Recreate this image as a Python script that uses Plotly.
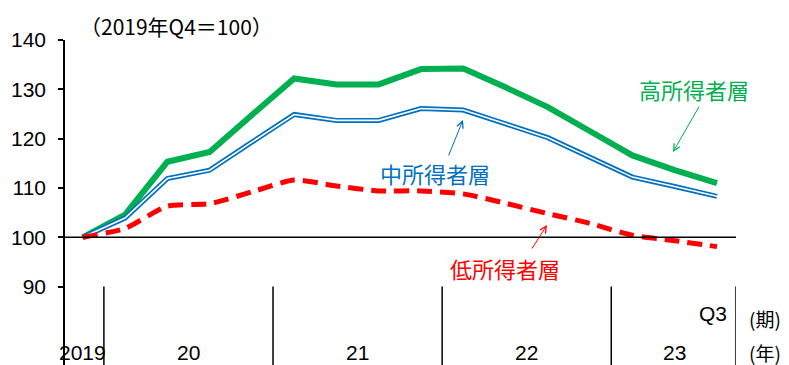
import plotly.graph_objects as go

# Quarterly index, 2019Q4 = 100
quarters = ["2019Q4",
            "2020Q1", "2020Q2", "2020Q3", "2020Q4",
            "2021Q1", "2021Q2", "2021Q3", "2021Q4",
            "2022Q1", "2022Q2", "2022Q3", "2022Q4",
            "2023Q1", "2023Q2", "2023Q3"]
high_income = [100.0, 104.6, 115.3, 117.3, 124.8, 132.2, 131.0, 131.0,
               134.1, 134.2, 130.4, 126.4, 121.5, 116.6, 113.6, 111.0]
middle_income = [100.0, 103.9, 111.9, 113.6, 119.3, 124.9, 123.7, 123.7,
                 126.1, 125.8, 123.0, 120.2, 116.2, 112.2, 110.3, 108.3]
low_income = [100.0, 101.8, 106.3, 106.8, 109.2, 111.6, 110.4, 109.4,
              109.4, 108.8, 106.9, 104.8, 102.8, 100.4, 99.3, 98.1]

year_labels = ["2019", "20", "21", "22", "23"]
year_centers = [0, 2.5, 6.5, 10.5, 14]
year_bounds = [0.5, 4.5, 8.5, 12.5, 15.45]

GREEN = "#00B050"
BLUE = "#0070C0"
RED = "#FF0000"
JP = "Noto Sans CJK JP"
NUM = "Liberation Sans Narrow, Liberation Sans, Arial"

W, H = 789, 365
L, R, T, B = 65, 53, 40, 0
Y_MIN, Y_MAX = 74.1, 140
X_MIN, X_MAX = -0.42, 15.45

x = list(range(len(quarters)))

fig = go.Figure()

fig.add_trace(go.Scatter(x=x, y=high_income, mode="lines",
                         line=dict(color=GREEN, width=6), hoverinfo="skip"))
# middle-income series drawn as a double line: blue stroke with a white core
fig.add_trace(go.Scatter(x=x, y=middle_income, mode="lines",
                         line=dict(color=BLUE, width=5), hoverinfo="skip"))
fig.add_trace(go.Scatter(x=x, y=middle_income, mode="lines",
                         line=dict(color="white", width=1.6), hoverinfo="skip"))
fig.add_trace(go.Scatter(x=x, y=low_income, mode="lines",
                         line=dict(color=RED, width=5, dash="15px,8px",
                                   shape="spline", smoothing=0.6),
                         hoverinfo="skip"))

shapes = [dict(type="line", xref="paper", yref="y", x0=0, x1=1, y0=100, y1=100,
               line=dict(color="black", width=1.5))]
for b in year_bounds:
    shapes.append(dict(type="line", xref="x", yref="y", x0=b, x1=b,
                       y0=Y_MIN, y1=90, line=dict(color="black", width=1.5)))


def px(xp, yp):
    """Pixel position in the page -> paper coordinates."""
    pw = W - L - R
    ph = H - T - B
    return (xp - L) / pw, (H - B - yp) / ph


annotations = []

def text(xp, yp, s, color="black", size=18, family=JP, xanchor="center"):
    ax_, ay_ = px(xp, yp)
    annotations.append(dict(x=ax_, y=ay_, xref="paper", yref="paper", text=s,
                            showarrow=False, xanchor=xanchor, yanchor="middle",
                            font=dict(color=color, size=size, family=family)))

text(78, 26, "（2019年Q4＝100）", size=21, xanchor="left")

for lab, c in zip(year_labels, year_centers):
    annotations.append(dict(x=c, y=0, xref="x", yref="paper", text=lab,
                            showarrow=False, yanchor="middle", xanchor="center",
                            yshift=(H - B - 352),
                            font=dict(size=21, family=NUM, color="black")))
text(729, 313, "Q3", size=21, family=NUM, xanchor="right")
text(747, 318, "(期)", size=19, family=JP, xanchor="left")
text(747, 352, "(年)", size=19, family=JP, xanchor="left")

# series labels with leader arrows
text(694, 89, "高所得者層", color=GREEN, size=22)
text(435, 173, "中所得者層", color=BLUE, size=22)
text(505, 268, "低所得者層", color=RED, size=22)

def arrow(hx, hy, tx, ty, color):
    x0, y0 = px(hx, hy)
    annotations.append(dict(x=x0, y=y0, xref="paper", yref="paper",
                            ax=tx - hx, ay=ty - hy, showarrow=True, text="",
                            arrowhead=5, arrowsize=1.3, arrowwidth=1,
                            arrowcolor=color))

arrow(673, 152, 700, 105, GREEN)
arrow(463, 120, 448, 157, BLUE)
arrow(547, 225, 531, 250, RED)

fig.update_layout(
    width=W, height=H,
    margin=dict(l=L, r=R, t=T, b=B, pad=0),
    paper_bgcolor="white", plot_bgcolor="white",
    showlegend=False,
    shapes=shapes,
    annotations=annotations,
    xaxis=dict(range=[X_MIN, X_MAX], showgrid=False, zeroline=False,
               showticklabels=False, ticks="", showline=False),
    yaxis=dict(range=[Y_MIN, Y_MAX], showgrid=False, zeroline=False,
               tickvals=[90, 100, 110, 120, 130, 140], ticks="outside",
               ticklen=5, tickwidth=1.5, tickcolor="black",
               showline=True, linecolor="black", linewidth=1.5,
               ticklabelstandoff=8,
               tickfont=dict(size=21, family=NUM, color="black")),
)

fig.write_html("out.html")
